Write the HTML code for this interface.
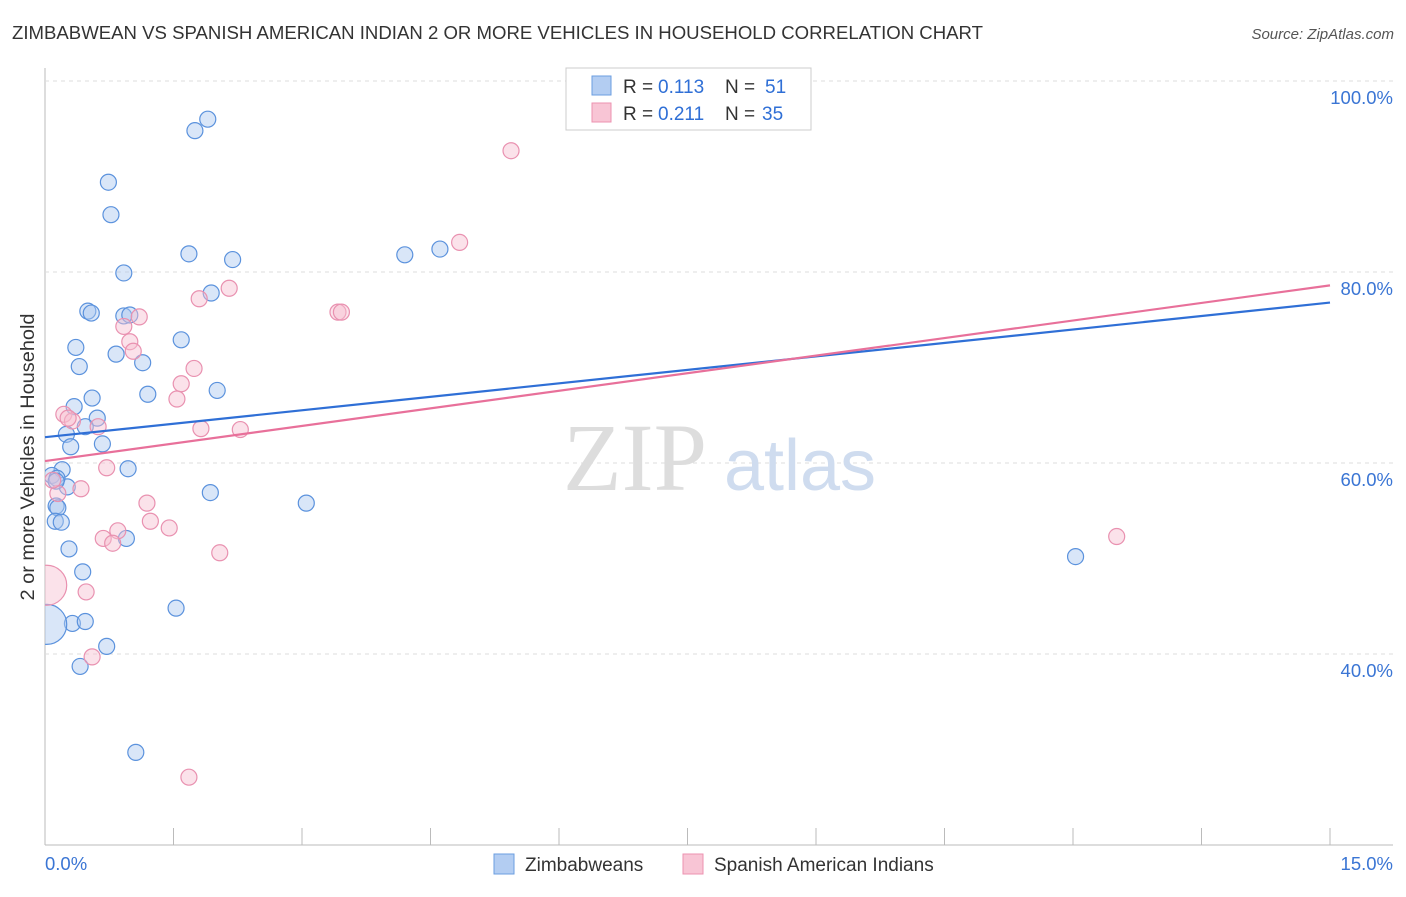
<!DOCTYPE html>
<html><head><meta charset="utf-8"><style>
body{margin:0;background:#fff;font-family:"Liberation Sans",sans-serif;}
</style></head><body>
<svg width="1406" height="892" xmlns="http://www.w3.org/2000/svg">
<defs><clipPath id="plotclip"><rect x="45" y="60" width="1360" height="785"/></clipPath></defs>
<text x="12" y="39" font-size="18" fill="#333" textLength="971" lengthAdjust="spacingAndGlyphs">ZIMBABWEAN VS SPANISH AMERICAN INDIAN 2 OR MORE VEHICLES IN HOUSEHOLD CORRELATION CHART</text>
<text x="1394" y="39" font-size="15" fill="#555" font-style="italic" text-anchor="end">Source: ZipAtlas.com</text>
<g id="grid"></g>
<g><text x="635" y="490" font-size="96" fill="#ddd" font-family="Liberation Serif" text-anchor="middle">ZIP</text><text x="800" y="490" font-size="72" fill="#cfdcef" text-anchor="middle">atlas</text></g>
<g id="pts" clip-path="url(#plotclip)"></g>
<g id="lines"></g>
<text transform="translate(34,457) rotate(-90)" font-size="19" fill="#333" text-anchor="middle" textLength="287" lengthAdjust="spacingAndGlyphs">2 or more Vehicles in Household</text>
<g>
<rect x="566" y="68" width="245" height="62" fill="#fff" stroke="#ccc"/>
<rect x="592" y="76" width="19" height="19" fill="#b3cdf2" stroke="#6b9ee0"/>
<rect x="592" y="103" width="19" height="19" fill="#f8c5d5" stroke="#ec92b0"/>
<text y="93" font-size="19" fill="#333"><tspan x="623">R =</tspan><tspan x="658" fill="#2f6fd6">0.113</tspan><tspan x="725">N =</tspan><tspan x="765" fill="#2f6fd6">51</tspan></text>
<text y="120" font-size="19" fill="#333"><tspan x="623">R =</tspan><tspan x="658" fill="#2f6fd6">0.211</tspan><tspan x="725">N =</tspan><tspan x="762" fill="#2f6fd6">35</tspan></text>
</g>
<g>
<rect x="494" y="854" width="20" height="20" fill="#b3cdf2" stroke="#6b9ee0"/>
<text x="525" y="871" font-size="19" fill="#333">Zimbabweans</text>
<rect x="683" y="854" width="20" height="20" fill="#f8c5d5" stroke="#ec92b0"/>
<text x="714" y="871" font-size="19" fill="#333">Spanish American Indians</text>
</g>
</svg>
<script>
const xTicks=[0,1.5,3,4.5,6,7.5,9,10.5,12,13.5,15];
const yTicks=[40,60,80,100];
const blueX=[1.90,1.75,0.74,0.77,1.68,2.19,4.20,4.61,0.92,1.94,0.50,0.54,0.92,0.99,1.59,0.36,0.83,1.14,0.40,2.01,1.20,0.55,0.34,0.61,0.25,0.47,0.30,0.67,0.20,0.08,0.97,0.26,0.14,0.13,0.15,0.12,0.19,1.93,3.05,0.28,0.95,0.44,1.53,0.32,0.47,0.02,0.72,0.41,1.06,12.03,0.13];
const blueY=[96.0,94.8,89.4,86.0,81.9,81.3,81.8,82.4,79.9,77.8,75.9,75.7,75.4,75.5,72.9,72.1,71.4,70.5,70.1,67.6,67.2,66.8,65.9,64.7,63.0,63.8,61.7,62.0,59.3,58.7,59.4,57.5,58.4,55.5,55.3,53.9,53.8,56.9,55.8,51.0,52.1,48.6,44.8,43.2,43.4,43.1,40.8,38.7,29.7,50.2,58.1];
const blueBig=[45];
const pinkX=[5.44,4.84,2.15,1.80,3.42,3.46,1.10,0.92,0.99,1.03,1.74,1.59,1.54,0.22,0.32,0.27,0.62,1.82,2.28,0.72,0.42,0.15,1.19,1.23,0.85,1.45,0.68,0.79,2.04,0.48,0.55,1.68,12.51,0.02,0.09];
const pinkY=[92.7,83.1,78.3,77.2,75.8,75.8,75.3,74.3,72.7,71.7,69.9,68.3,66.7,65.1,64.4,64.7,63.8,63.6,63.5,59.5,57.3,56.8,55.8,53.9,52.9,53.2,52.1,51.6,50.6,46.5,39.7,27.1,52.3,47.2,58.2];
const pinkBig=[33];
const blueTrend=[62.7,76.8];
const pinkTrend=[60.2,78.6];
const NS="http://www.w3.org/2000/svg";
const sx=v=>45+v*(1330-45)/15;
const sy=v=>81+(100-v)*9.55;
function mk(t,a,p){const e=document.createElementNS(NS,t);for(const k in a)e.setAttribute(k,a[k]);p.appendChild(e);return e;}
const grid=document.getElementById('grid');
mk('line',{x1:45,y1:845,x2:1393,y2:845,stroke:'#bbb'},grid);
mk('line',{x1:45,y1:68,x2:45,y2:845,stroke:'#bbb'},grid);
yTicks.forEach(v=>{
 const l=mk('line',{x1:45,y1:sy(v),x2:1393,y2:sy(v),stroke:'#ddd','stroke-dasharray':'4,4'},grid);
 
 
 const t=mk('text',{x:1393,y:sy(v)+23,'font-size':18.5,fill:'#3a75d4','text-anchor':'end'},grid);
 t.textContent=v.toFixed(1)+'%';
 
 
});
xTicks.forEach(v=>{
 const l=mk('line',{x1:sx(v),y1:828,x2:sx(v),y2:845,stroke:'#bbb'},grid);
 
 
});
[[0,'start',45],[15,'end',1393]].forEach(([v,a,x])=>{
 const t=mk('text',{x:x,y:870,'font-size':18.5,fill:'#3a75d4','text-anchor':a},grid);
 t.textContent=v.toFixed(1)+'%';
 
 
});
const pts=document.getElementById('pts');
function dots(X,Y,big,fill,stroke,name){
 X.forEach((x,i)=>{
  const r=big.includes(i)?20:8;
  const c=mk('circle',{cx:sx(x),cy:sy(Y[i]),r:r,fill:fill,'fill-opacity':0.45,stroke:stroke,'stroke-width':1.2},pts);
  
  
 });
}
dots(blueX,blueY,blueBig,'#aac8f0','#5b92dd','zimbabwean-point');
dots(pinkX,pinkY,pinkBig,'#f7bfd1','#e991b0','spanish-american-indian-point');
const lines=document.getElementById('lines');
const bl=mk('line',{x1:sx(0),y1:sy(blueTrend[0]),x2:sx(15),y2:sy(blueTrend[1]),stroke:'#2f6fd6','stroke-width':2.2},lines);


const pl=mk('line',{x1:sx(0),y1:sy(pinkTrend[0]),x2:sx(15),y2:sy(pinkTrend[1]),stroke:'#e8709a','stroke-width':2.2},lines);


</script>
</body></html>
